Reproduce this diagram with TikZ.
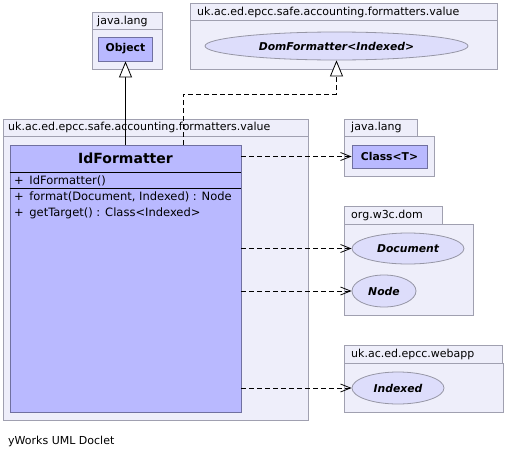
\documentclass[tikz,border=0pt]{standalone}
\usepackage{fontspec}
\setmainfont{DejaVu Sans}
\usetikzlibrary{arrows.meta,shapes.geometric}

\definecolor{pkgfill}{RGB}{238,238,250}
\definecolor{pkgline}{RGB}{160,160,176}
\definecolor{clsfill}{RGB}{185,185,255}
\definecolor{clsline}{RGB}{112,112,160}
\definecolor{ellfill}{RGB}{221,221,251}
\definecolor{ellline}{RGB}{150,150,165}

\newcommand*{\pkgfont}{\fontsize{11}{13}\selectfont}
\newcommand*{\memfont}{\fontsize{11.5}{13}\selectfont}
\newcommand*{\boxfont}{\fontsize{10.8}{13}\selectfont}

\begin{document}
\begin{tikzpicture}
[
	x=1pt,y=-1pt,
	pkg/.style={draw=pkgline,fill=pkgfill,line width=0.8pt},
	pkglabel/.style={anchor=west,inner sep=0pt,font=\pkgfont},
	cls/.style={rectangle,draw=clsline,fill=clsfill,line width=0.8pt,inner sep=0pt,font=\bfseries\boxfont},
	iface/.style={ellipse,draw=ellline,fill=ellfill,line width=0.8pt,inner sep=0pt,font=\bfseries\itshape\boxfont},
	member/.style={anchor=west,inner sep=0pt,font=\memfont},
	dep/.style={draw,line width=0.8pt,dash pattern=on 5pt off 3pt,-{Straight Barb[length=10pt,width=8pt]}},
	gen/.style={draw,line width=0.8pt,-{Triangle[open,length=16pt,width=13pt,fill=white]}},
	real/.style={gen,dash pattern=on 5pt off 3pt}
]

	\useasboundingbox (0,0) rectangle (506,458);

	% packages
	\draw[pkg] (92,12) rectangle (162,69);
	\draw[pkgline,line width=0.8pt] (92,29) -- (162,29);
	\node[pkglabel] (pkgjl) at (97,21) {java.lang};
	%
	\draw[pkg] (190,3) rectangle (497,69);
	\draw[pkgline,line width=0.8pt] (190,20) -- (497,20);
	\node[pkglabel] (pkgdom) at (197,12) {uk.ac.ed.epcc.safe.accounting.formatters.value};
	%
	\draw[pkg] (3,119) rectangle (308,420);
	\draw[pkgline,line width=0.8pt] (3,136) -- (308,136);
	\node[pkglabel] (pkgval) at (8,127.5) {uk.ac.ed.epcc.safe.accounting.formatters.value};
	%
	\draw[pkg] (344,119) rectangle (417,136);
	\draw[pkg] (344,136) rectangle (434,176);
	\node[pkglabel] (pkgjl2) at (351,127.5) {java.lang};
	%
	\draw[pkg] (344,206) rectangle (442,224);
	\draw[pkg] (344,224) rectangle (473,315);
	\node[pkglabel] (pkgw3c) at (351,215) {org.w3c.dom};
	%
	\draw[pkg] (344,345) rectangle (502,363);
	\draw[pkg] (344,363) rectangle (503,412);
	\node[pkglabel] (pkgweb) at (351,354) {uk.ac.ed.epcc.webapp};

	% classes and interfaces
	\node[cls,minimum width=54pt,minimum height=24pt] (obj) at (125.5,49) {Object};
	\node[iface,minimum width=263pt,minimum height=28pt] (dom) at (336.5,46) {DomFormatter<Indexed>};
	\node[cls,minimum width=75pt,minimum height=23pt] (clst) at (389.5,156.5) {Class<T>};
	\node[iface,minimum width=112pt,minimum height=31pt] (doc) at (408,248.5) {Document};
	\node[iface,minimum width=64pt,minimum height=32pt] (node) at (384,291) {Node};
	\node[iface,minimum width=92pt,minimum height=32pt] (idx) at (398,388) {Indexed};

	% IdFormatter
	\node[cls,minimum width=231pt,minimum height=267pt] (idf) at (125.5,278.5) {};
	\node[font=\bfseries\fontsize{14}{16}\selectfont] (idfname) at (125.5,158.5) {IdFormatter};
	\draw[black,line width=0.8pt] (idf.west |- 0,172) -- (idf.east |- 0,172);
	\draw[black,line width=0.8pt] (idf.west |- 0,188) -- (idf.east |- 0,188);
	\node[member] (ctor) at (14,180.5) {+\ \,IdFormatter()};
	\node[member] (mformat) at (14,197) {+\ \,format(Document, Indexed) : Node};
	\node[member] (mtarget) at (14,213.5) {+\ \,getTarget() : Class<Indexed>};

	% generalization and realization
	\draw[gen] (idf.north) -- (idf.north |- obj.south);
	\coordinate (bend) at (183,94);
	\draw[real] (idf.north -| bend) -- (bend) -| (dom.south);

	% dependencies
	\draw[dep] (idf.east |- clst.west) -- (clst.west);
	\draw[dep] (idf.east |- doc.west) -- (doc.west);
	\draw[dep] (idf.east |- node.west) -- (node.west);
	\draw[dep] (idf.east |- idx.west) -- (idx.west);

	% footer
	\node[pkglabel] (footer) at (8,441) {yWorks UML Doclet};

\end{tikzpicture}
\end{document}
